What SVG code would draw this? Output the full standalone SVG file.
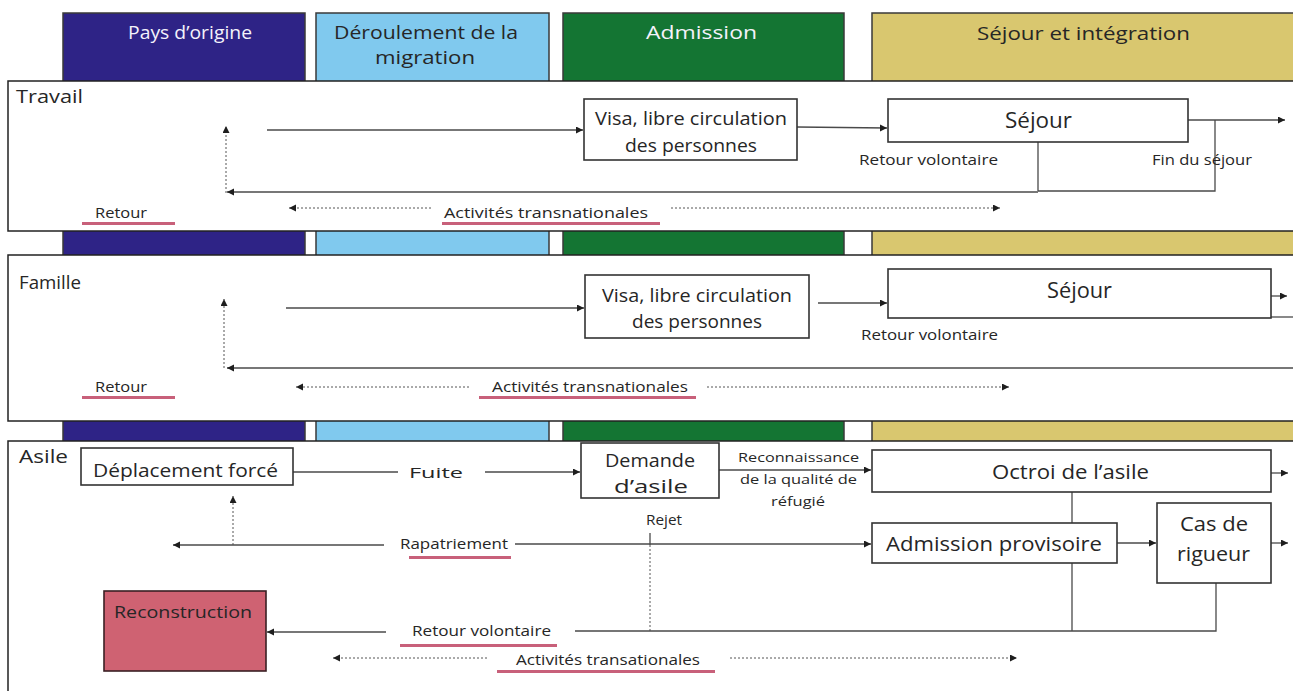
<svg xmlns="http://www.w3.org/2000/svg" width="1293" height="691" viewBox="0 0 1293 691">
<defs>
<marker id="ah" markerUnits="userSpaceOnUse" markerWidth="8" markerHeight="8" refX="7" refY="3.5" orient="auto"><path d="M0,0 L7,3.5 L0,7 z" fill="#1e1e1e"/></marker>
<style>
.t{font-family:"Open Sans","Liberation Sans",sans-serif;fill:#262626}
.w{fill:#f4f2fb}
.panel{fill:#fff;stroke:#222;stroke-width:1.5}
.box{fill:#fff;stroke:#333;stroke-width:1.6}
.ln{stroke:#4a4a4a;stroke-width:1.3;fill:none}
.ds{stroke:#555;stroke-width:1;stroke-dasharray:2 2;fill:none}
.ul{fill:#C8607A}
.ban{stroke:#3a3a3a;stroke-width:1.5}
</style>
</defs>
<rect width="1293" height="691" fill="#fff"/>
<g id="columns">
<rect class="ban" x="63" y="13" width="242" height="690" fill="#2E2386"/>
<rect class="ban" x="316" y="13" width="233" height="690" fill="#80C9EE"/>
<rect class="ban" x="563" y="13" width="281" height="690" fill="#147533"/>
<rect class="ban" x="872" y="13" width="440" height="690" fill="#D9C76F"/>
<text class="t w" x="128" y="39" font-size="18" textLength="124" lengthAdjust="spacingAndGlyphs">Pays d’origine</text>
<text class="t" x="334" y="39" font-size="18" textLength="184" lengthAdjust="spacingAndGlyphs" fill="#1d2b38">Déroulement de la</text>
<text class="t" x="375" y="64" font-size="18" textLength="100" lengthAdjust="spacingAndGlyphs" fill="#1d2b38">migration</text>
<text class="t w" x="646" y="39" font-size="18" textLength="111" lengthAdjust="spacingAndGlyphs">Admission</text>
<text class="t" x="977" y="40" font-size="18" textLength="213" lengthAdjust="spacingAndGlyphs" fill="#2a2818">Séjour et intégration</text>
</g>
<g id="panel-travail">
<rect class="panel" x="8" y="81" width="1300" height="150"/>
<text class="t" x="16" y="103" font-size="18" textLength="67" lengthAdjust="spacingAndGlyphs">Travail</text>
</g>
<g id="panel-famille">
<rect class="panel" x="8" y="255" width="1300" height="166"/>
<text class="t" x="19" y="289" font-size="18" textLength="62" lengthAdjust="spacingAndGlyphs">Famille</text>
</g>
<g id="panel-asile">
<rect class="panel" x="8" y="441" width="1300" height="270"/>
<text class="t" x="19" y="463" font-size="18" textLength="49" lengthAdjust="spacingAndGlyphs">Asile</text>
</g>
<g id="connectors">
<path class="ds" d="M226,193 V126" marker-end="url(#ah)"/>
<path class="ln" d="M267,130 H583" marker-end="url(#ah)"/>
<path class="ln" d="M797,127 L887,128" marker-end="url(#ah)"/>
<path class="ln" d="M1188,120 H1285" marker-end="url(#ah)"/>
<path class="ln" d="M1215,120 V191 H1038 M1038,142 V191"/>
<path class="ln" d="M1038,192 H227" marker-end="url(#ah)"/>
<path class="ds" d="M431,208 H289" marker-end="url(#ah)"/>
<path class="ds" d="M671,208 H1000" marker-end="url(#ah)"/>
<path class="ds" d="M224,368 V299" marker-end="url(#ah)"/>
<path class="ln" d="M286,308 H584" marker-end="url(#ah)"/>
<path class="ln" d="M818,303 H887" marker-end="url(#ah)"/>
<path class="ln" d="M1271,296 H1287" marker-end="url(#ah)"/>
<path class="ln" d="M1271,317 H1300"/>
<path class="ln" d="M1300,368 H227" marker-end="url(#ah)"/>
<path class="ds" d="M469,387 H296" marker-end="url(#ah)"/>
<path class="ds" d="M707,387 H1009" marker-end="url(#ah)"/>
<path class="ln" d="M293,472 H398"/>
<path class="ln" d="M485,472 H580" marker-end="url(#ah)"/>
<path class="ln" d="M719,470 H871" marker-end="url(#ah)"/>
<path class="ln" d="M1271,473 H1288" marker-end="url(#ah)"/>
<path class="ln" d="M1072,492 V523 M1072,563 V631"/>
<path class="ln" d="M384,545 H173" marker-end="url(#ah)"/>
<path class="ds" d="M233,545 V496" marker-end="url(#ah)"/>
<path class="ln" d="M515,544 H871" marker-end="url(#ah)"/>
<path class="ln" d="M650,533 V545"/>
<path class="ds" d="M650,545 V631"/>
<path class="ln" d="M1117,543 H1156" marker-end="url(#ah)"/>
<path class="ln" d="M1271,543 H1288" marker-end="url(#ah)"/>
<path class="ln" d="M1216,583 V631 H575"/>
<path class="ln" d="M386,632 H267" marker-end="url(#ah)"/>
<path class="ds" d="M487,658 H333" marker-end="url(#ah)"/>
<path class="ds" d="M730,658 H1017" marker-end="url(#ah)"/>
</g>
<g id="labels">
<text class="t" x="859" y="165" font-size="14" textLength="139" lengthAdjust="spacingAndGlyphs">Retour volontaire</text>
<text class="t" x="1152" y="165" font-size="14" textLength="100" lengthAdjust="spacingAndGlyphs">Fin du séjour</text>
<text class="t" x="95" y="218" font-size="14" textLength="52" lengthAdjust="spacingAndGlyphs">Retour</text>
<rect class="ul" x="82" y="222" width="93" height="3"/>
<text class="t" x="444" y="218" font-size="14" textLength="204" lengthAdjust="spacingAndGlyphs">Activités transnationales</text>
<rect class="ul" x="442" y="222" width="218" height="3"/>
<text class="t" x="861" y="340" font-size="14" textLength="137" lengthAdjust="spacingAndGlyphs">Retour volontaire</text>
<text class="t" x="95" y="392" font-size="14" textLength="52" lengthAdjust="spacingAndGlyphs">Retour</text>
<rect class="ul" x="82" y="396" width="93" height="3"/>
<text class="t" x="492" y="392" font-size="14" textLength="196" lengthAdjust="spacingAndGlyphs">Activités transnationales</text>
<rect class="ul" x="479" y="396" width="217" height="3"/>
<text class="t" x="409" y="478" font-size="14" textLength="54" lengthAdjust="spacingAndGlyphs">Fuite</text>
<text class="t" x="738" y="462" font-size="13" textLength="121" lengthAdjust="spacingAndGlyphs">Reconnaissance</text>
<text class="t" x="740" y="484" font-size="13" textLength="117" lengthAdjust="spacingAndGlyphs">de la qualité de</text>
<text class="t" x="771" y="506" font-size="13" textLength="54" lengthAdjust="spacingAndGlyphs">réfugié</text>
<text class="t" x="646" y="525" font-size="14" textLength="36" lengthAdjust="spacingAndGlyphs">Rejet</text>
<text class="t" x="400" y="549" font-size="15" textLength="108" lengthAdjust="spacingAndGlyphs">Rapatriement</text>
<rect class="ul" x="409" y="556" width="102" height="3"/>
<text class="t" x="412" y="636" font-size="15" textLength="139" lengthAdjust="spacingAndGlyphs">Retour volontaire</text>
<rect class="ul" x="400" y="644" width="157" height="3"/>
<text class="t" x="516" y="665" font-size="15" textLength="184" lengthAdjust="spacingAndGlyphs">Activités transationales</text>
<rect class="ul" x="497" y="670" width="218" height="3"/>
</g>
<g id="node-visa-travail">
<rect class="box" x="584" y="99" width="213" height="61"/>
<text class="t" x="595" y="125" font-size="18" textLength="192" lengthAdjust="spacingAndGlyphs">Visa, libre circulation</text>
<text class="t" x="625" y="152" font-size="18" textLength="132" lengthAdjust="spacingAndGlyphs">des personnes</text>
</g>
<g id="node-sejour-travail">
<rect class="box" x="888" y="99" width="300" height="43"/>
<text class="t" x="1005" y="128" font-size="21" textLength="67" lengthAdjust="spacingAndGlyphs">Séjour</text>
</g>
<g id="node-visa-famille">
<rect class="box" x="585" y="275" width="224" height="63"/>
<text class="t" x="602" y="302" font-size="18" textLength="190" lengthAdjust="spacingAndGlyphs">Visa, libre circulation</text>
<text class="t" x="632" y="328" font-size="18" textLength="130" lengthAdjust="spacingAndGlyphs">des personnes</text>
</g>
<g id="node-sejour-famille">
<rect class="box" x="888" y="269" width="383" height="49"/>
<text class="t" x="1047" y="298" font-size="21" textLength="65" lengthAdjust="spacingAndGlyphs">Séjour</text>
</g>
<g id="node-deplacement">
<rect class="box" x="81" y="448" width="212" height="37"/>
<text class="t" x="93" y="477" font-size="18" textLength="185" lengthAdjust="spacingAndGlyphs">Déplacement forcé</text>
</g>
<g id="node-demande">
<rect class="box" x="581" y="443" width="138" height="55"/>
<text class="t" x="605" y="467" font-size="18" textLength="90" lengthAdjust="spacingAndGlyphs">Demande</text>
<text class="t" x="614" y="493" font-size="18" textLength="74" lengthAdjust="spacingAndGlyphs">d’asile</text>
</g>
<g id="node-octroi">
<rect class="box" x="872" y="450" width="399" height="42"/>
<text class="t" x="992" y="479" font-size="20" textLength="157" lengthAdjust="spacingAndGlyphs">Octroi de l’asile</text>
</g>
<g id="node-admission-provisoire">
<rect class="box" x="872" y="523" width="245" height="40"/>
<text class="t" x="886" y="551" font-size="20" textLength="216" lengthAdjust="spacingAndGlyphs">Admission provisoire</text>
</g>
<g id="node-cas-rigueur">
<rect class="box" x="1157" y="503" width="114" height="80"/>
<text class="t" x="1180" y="531" font-size="20" textLength="68" lengthAdjust="spacingAndGlyphs">Cas de</text>
<text class="t" x="1177" y="561" font-size="20" textLength="73" lengthAdjust="spacingAndGlyphs">rigueur</text>
</g>
<g id="node-reconstruction">
<rect x="104" y="591" width="162" height="80" fill="#CF6272" stroke="#3a2024" stroke-width="1.6"/>
<text class="t" x="114" y="618" font-size="17" textLength="138" lengthAdjust="spacingAndGlyphs" fill="#3a1d22">Reconstruction</text>
</g>
</svg>
